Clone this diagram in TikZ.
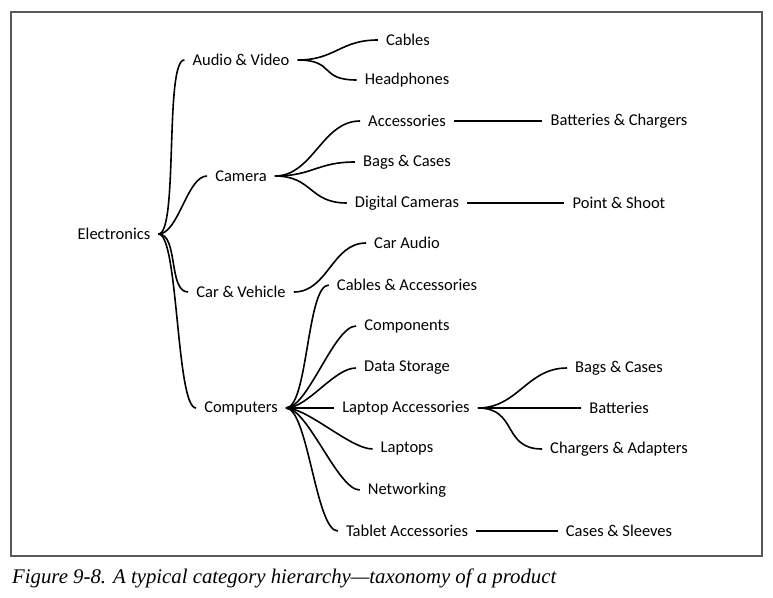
\documentclass[tikz,border=0pt]{standalone}
\usepackage{fontspec}
\setmainfont{Carlito}
\newfontfamily\capfont{Liberation Serif}

\begin{document}
\begin{tikzpicture}[x=1pt,y=-1pt,
    cat/.style={inner xsep=8pt,inner ysep=2pt,font=\fontsize{16.5}{18}\selectfont},
    link/.style={line width=1.6pt,out=0,in=180,out distance=#1,in distance=#1},
    rule/.style={line width=1.6pt}]
    \useasboundingbox (0,0) rectangle (773,597);
    \draw[gray!70!black,line width=1.2pt] (11,12) rectangle (762,556);
    % level 0 and 1
    \node[cat] (elec) at (114,234) {Electronics};
    \node[cat] (av) at (241,60) {Audio \& Video};
    \node[cat] (cam) at (241,176) {Camera};
    \node[cat] (car) at (241,292) {Car \& Vehicle};
    \node[cat] (comp) at (241,408) {Computers};
    % level 2
    \node[cat] (cables) at (408,40) {Cables};
    \node[cat] (phones) at (407,80) {Headphones};
    \node[cat] (camacc) at (407,121) {Accessories};
    \node[cat] (cambag) at (407,162) {Bags \& Cases};
    \node[cat] (digcam) at (407,203) {Digital Cameras};
    \node[cat] (caraudio) at (407,243) {Car Audio};
    \node[cat] (cabacc) at (407,285) {Cables \& Accessories};
    \node[cat] (parts) at (407,326) {Components};
    \node[cat] (storage) at (407,368) {Data Storage};
    \node[cat] (lapacc) at (406,408) {Laptop Accessories};
    \node[cat] (laptops) at (407,449) {Laptops};
    \node[cat] (network) at (407,490) {Networking};
    \node[cat] (tabacc) at (407,531) {Tablet Accessories};
    % level 3
    \node[cat] (batchg) at (619,121) {Batteries \& Chargers};
    \node[cat] (shoot) at (619,203) {Point \& Shoot};
    \node[cat] (lapbag) at (619,368) {Bags \& Cases};
    \node[cat] (batt) at (619,408) {Batteries};
    \node[cat] (chgad) at (619,449) {Chargers \& Adapters};
    \node[cat] (sleeve) at (619,531) {Cases \& Sleeves};
    % connectors
    \path[link=20] (elec) edge (av) (elec) edge (cam) (elec) edge (car) (elec) edge (comp);
    \path[link=38] (av) edge (cables) (av) edge (phones);
    \path[link=38] (cam) edge (camacc) (cam) edge (cambag) (cam) edge (digcam);
    \path[link=34] (car) edge (caraudio);
    \path[link=22] (comp) edge (cabacc) (comp) edge (parts) (comp) edge (storage)
        (comp) edge (laptops) (comp) edge (network) (comp) edge (tabacc);
    \path[link=40] (lapacc) edge (lapbag) (lapacc) edge (chgad);
    \path[rule] (comp) edge (lapacc) (lapacc) edge (batt);
    \path[rule] (camacc) edge (batchg) (digcam) edge (shoot) (tabacc) edge (sleeve);
    % caption
    \node[anchor=base west,inner sep=0pt,font=\capfont\itshape\fontsize{20.8}{24}\selectfont]
        (cap) at (12,583) {Figure 9-8. A typical category hierarchy—taxonomy of a product};
\end{tikzpicture}
\end{document}
